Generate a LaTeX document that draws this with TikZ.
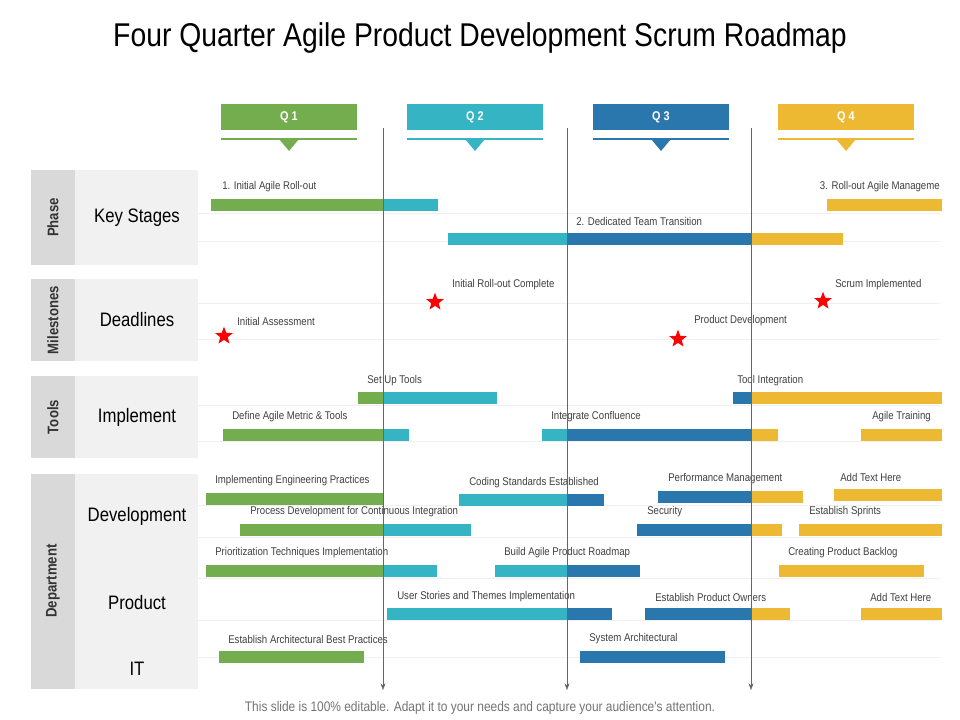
\documentclass[tikz,border=0pt]{standalone}
\usepackage{fontspec}
\setmainfont{Liberation Sans}
\newfontfamily\narrow[FakeStretch=0.86]{Liberation Sans}
\usetikzlibrary{shapes.geometric,arrows.meta}
\definecolor{qgreen}{HTML}{74AD4E}
\definecolor{qteal}{HTML}{35B4C4}
\definecolor{qblue}{HTML}{2A77AD}
\definecolor{qyellow}{HTML}{EEB932}
\definecolor{panelA}{HTML}{D9D9D9}
\definecolor{panelB}{HTML}{F1F1F1}
\tikzset{
  lbl/.style={anchor=west,inner sep=0pt,font=\narrow\fontsize{8.4}{9}\selectfont,text=black!75},
  qbox/.style={minimum width=102pt,minimum height=19pt,inner sep=0pt,text=white,font=\narrow\bfseries\fontsize{9.5}{10}\selectfont},
  side/.style={rotate=90,font=\narrow\bfseries\fontsize{11.5}{12}\selectfont,text=black!80},
  row/.style={font=\narrow\fontsize{14.6}{16}\selectfont},
  mstar/.style={star,star points=5,star point ratio=2.4,fill=red,inner sep=0pt,minimum size=14pt}
}
\newcommand{\seg}[4]{\fill[#4] (#1,#3-6) rectangle (#2,#3+6);}
\begin{document}
\begin{tikzpicture}[x=0.75pt,y=-0.75pt]
  \useasboundingbox (0,0) rectangle (960,720);
  \fill[white] (0,0) rectangle (960,720);

  \node[font=\narrow\fontsize{24.7}{28}\selectfont] (title) at (480,38) {Four Quarter Agile Product Development Scrum Roadmap};

  % quarter heads
  \foreach \x/\c/\q in {289/qgreen/1,475/qteal/2,661/qblue/3,846/qyellow/4}{
    \node[qbox,fill=\c] (q\q) at (\x,117) {Q \q};
    \draw[\c,thick] (\x-68,139) -- (\x+68,139);
    \fill[\c] (\x-10,139) -- (\x+10,139) -- (\x,151) -- cycle;
  }

  % side panels
  \foreach \ya/\yb/\s/\r in {170/265/Phase/Key Stages,279/361/Milestones/Deadlines,376/458/Tools/Implement}{
    \fill[panelA] (31,\ya) rectangle (75,\yb);
    \fill[panelB] (75,\ya) rectangle (198,\yb);
    \node[side] at (53,{(\ya+\yb)/2}) {\s};
    \node[row] at (137,{(\ya+\yb)/2}) {\r};
  }
  \fill[panelA] (31,474) rectangle (75,689);
  \fill[panelB] (75,474) rectangle (198,689);
  \node[side] (dep) at (53,581) {Department};
  \node[row] (dev) at (137,516) {Development};
  \node[row] (prod) at (137,603) {Product};
  \node[row] (it) at (137,669) {IT};

  % faint row lines
  \foreach \y in {213,241,303,339,405,441,505,537,578,620,657}
    \draw[black!6] (198,\y) -- (940,\y);

  % bars
  \seg{211}{383}{205}{qgreen}\seg{383}{438}{205}{qteal}
  \seg{827}{942}{205}{qyellow}
  \seg{448}{567}{239}{qteal}\seg{567}{751}{239}{qblue}\seg{751}{843}{239}{qyellow}
  \seg{358}{383}{398}{qgreen}\seg{383}{497}{398}{qteal}
  \seg{733}{751}{398}{qblue}\seg{751}{942}{398}{qyellow}
  \seg{223}{383}{435}{qgreen}\seg{383}{409}{435}{qteal}
  \seg{542}{567}{435}{qteal}\seg{567}{751}{435}{qblue}\seg{751}{778}{435}{qyellow}
  \seg{861}{942}{435}{qyellow}
  \seg{206}{383}{499}{qgreen}
  \seg{459}{567}{500}{qteal}\seg{567}{604}{500}{qblue}
  \seg{658}{751}{497}{qblue}\seg{751}{803}{497}{qyellow}
  \seg{834}{942}{495}{qyellow}
  \seg{240}{383}{530}{qgreen}\seg{383}{471}{530}{qteal}
  \seg{637}{751}{530}{qblue}\seg{751}{782}{530}{qyellow}
  \seg{799}{942}{530}{qyellow}
  \seg{206}{383}{571}{qgreen}\seg{383}{437}{571}{qteal}
  \seg{495}{567}{571}{qteal}\seg{567}{640}{571}{qblue}
  \seg{779}{924}{571}{qyellow}
  \seg{387}{567}{614}{qteal}\seg{567}{612}{614}{qblue}
  \seg{645}{751}{614}{qblue}\seg{751}{790}{614}{qyellow}
  \seg{861}{942}{614}{qyellow}
  \seg{219}{364}{657}{qgreen}
  \seg{580}{725}{657}{qblue}

  % labels
  \node[lbl] (l1) at (222,187) {1. Initial Agile Roll-out};
  \node[lbl,anchor=east] (l2) at (940,187) {3. Roll-out Agile Manageme};
  \node[lbl] (l3) at (576,221) {2. Dedicated Team Transition};
  \node[lbl] (l4) at (452,285) {Initial Roll-out Complete};
  \node[lbl] (l5) at (835,285) {Scrum Implemented};
  \node[lbl] (l6) at (237,321) {Initial Assessment};
  \node[lbl] (l7) at (694,321) {Product Development};
  \node[lbl] (l8) at (367,381) {Set Up Tools};
  \node[lbl] (l9) at (737,381) {Tool Integration};
  \node[lbl] (l10) at (232,417) {Define Agile Metric \& Tools};
  \node[lbl] (l11) at (551,417) {Integrate Confluence};
  \node[lbl] (l12) at (872,417) {Agile Training};
  \node[lbl] (l13) at (215,481) {Implementing Engineering Practices};
  \node[lbl] (l14) at (469,483) {Coding Standards Established};
  \node[lbl] (l15) at (668,479) {Performance Management};
  \node[lbl] (l16) at (840,477) {Add Text Here};
  \node[lbl] (l17) at (250,512) {Process Development for Continuous Integration};
  \node[lbl] (l18) at (647,512) {Security};
  \node[lbl] (l19) at (809,512) {Establish Sprints};
  \node[lbl] (l20) at (215,553) {Prioritization Techniques Implementation};
  \node[lbl] (l21) at (504,553) {Build Agile Product Roadmap};
  \node[lbl] (l22) at (788,553) {Creating Product Backlog};
  \node[lbl] (l23) at (397,597) {User Stories and Themes Implementation};
  \node[lbl] (l24) at (655,597) {Establish Product Owners};
  \node[lbl] (l25) at (870,597) {Add Text Here};
  \node[lbl] (l26) at (228,639) {Establish Architectural Best Practices};
  \node[lbl] (l27) at (589,639) {System Architectural};

  % milestones
  \node[mstar] (s1) at (435,302) {};
  \node[mstar] (s2) at (823,301) {};
  \node[mstar] (s3) at (224,336) {};
  \node[mstar] (s4) at (678,339) {};

  % quarter dividers
  \foreach \x in {383,567,751}
    \draw[black!60,-{Stealth[length=5pt]}] (\x,128) -- (\x,690);

  \node[font=\narrow\fontsize{10.4}{12}\selectfont,text=black!55] (foot) at (480,708) {This slide is 100\% editable. Adapt it to your needs and capture your audience's attention.};
\end{tikzpicture}
\end{document}
